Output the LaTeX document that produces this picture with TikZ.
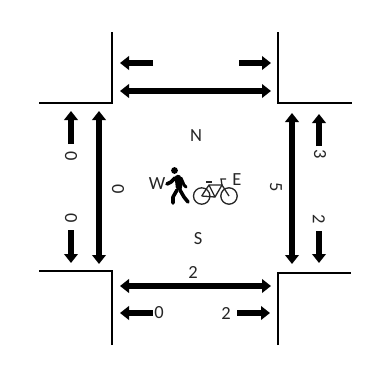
\documentclass[tikz,border=0pt]{standalone}
\usepackage{fontspec}
\setmainfont{Carlito}
\usetikzlibrary{arrows.meta}

\begin{document}
\begin{tikzpicture}[
  x=1pt, y=-1pt,
  font=\fontsize{18.5}{18.5}\selectfont,
  >={Triangle[width=13.5pt,length=9pt]},
  % Node styles
  hlabel/.style = {inner sep=0pt, black!85},
  vlabel/.style = {inner sep=0pt, rotate=-90, black!85},
  % Line styles
  kerb/.style   = {line width=1.6pt, line join=miter},
  flow/.style   = {<->, line width=6pt},
  turn/.style   = {->, line width=6pt},
  rider/.style  = {line width=1.3pt, black!85},
  walker/.style = {line width=3.6pt, line cap=round, line join=round}
]
\useasboundingbox (0,0) rectangle (373,376);

% =========================== KERBS ===========================
\coordinate (TLa) at (112,32);  \coordinate (TLb) at (112,103); \coordinate (TLc) at (39,103);
\coordinate (TRa) at (278,32);  \coordinate (TRb) at (278,103); \coordinate (TRc) at (352,103);
\coordinate (BLa) at (112,345); \coordinate (BLb) at (112,271); \coordinate (BLc) at (39,271);
\coordinate (BRa) at (278,345); \coordinate (BRb) at (278,273); \coordinate (BRc) at (351,273);

\draw[kerb] (TLa) -- (TLb) -- (TLc);
\draw[kerb] (TRa) -- (TRb) -- (TRc);
\draw[kerb] (BLa) -- (BLb) -- (BLc);
\draw[kerb] (BRa) -- (BRb) -- (BRc);

% =========================== NORTH LEG ===========================
\coordinate (Na) at (153,63);  \coordinate (Nb) at (120,63);
\coordinate (Nc) at (239,63);  \coordinate (Nd) at (271,63);
\coordinate (Ne) at (120,91);  \coordinate (Nf) at (271,91);
\draw[turn] (Na) -- (Nb);
\draw[turn] (Nc) -- (Nd);
\draw[flow] (Ne) -- (Nf);

% =========================== WEST LEG ===========================
\coordinate (Wa) at (71,144);  \coordinate (Wb) at (71,111);
\coordinate (Wc) at (71,230);  \coordinate (Wd) at (71,263);
\coordinate (We) at (99,111);  \coordinate (Wf) at (99,264);
\draw[turn] (Wa) -- (Wb);
\draw[turn] (Wc) -- (Wd);
\draw[flow] (We) -- (Wf);
\node[vlabel] (W0a) at (71,156)  {0};
\node[vlabel] (W0b) at (71,218)  {0};
\node[vlabel] (W0c) at (118,189) {0};

% =========================== EAST LEG ===========================
\coordinate (Ea) at (319,146); \coordinate (Eb) at (319,114);
\coordinate (Ec) at (319,231); \coordinate (Ed) at (319,263);
\coordinate (Ee) at (292,113); \coordinate (Ef) at (292,264);
\draw[turn] (Ea) -- (Eb);
\draw[turn] (Ec) -- (Ed);
\draw[flow] (Ee) -- (Ef);
\node[vlabel] (E3) at (320,154) {3};
\node[vlabel] (E2) at (319,219) {2};
\node[vlabel] (E5) at (276,187) {5};

% =========================== SOUTH LEG ===========================
\coordinate (Sa) at (120,286); \coordinate (Sb) at (271,286);
\coordinate (Sc) at (153,313); \coordinate (Sd) at (120,313);
\coordinate (Se) at (237,313); \coordinate (Sf) at (270,313);
\draw[flow] (Sa) -- (Sb);
\draw[turn] (Sc) -- (Sd);
\draw[turn] (Se) -- (Sf);
\node[hlabel] (S2a) at (193,272) {2};
\node[hlabel] (S0)  at (159,313) {0};
\node[hlabel] (S2b) at (226,313) {2};

% =========================== COMPASS ===========================
\node[hlabel] (N) at (196,136) {N};
\node[hlabel] (S) at (198,239) {S};
\node[hlabel] (W) at (157,184) {W};
\node[hlabel] (E) at (237,180) {E};

% =========================== PEDESTRIAN ===========================
\fill (174.5,170.5) circle (3.4);
\draw[walker, line width=6.5pt] (178,178) -- (179,187);
\draw[walker] (175,178) -- (171,182) -- (167,184);
\draw[walker, line width=3pt] (181,178) -- (184,185) -- (186,187);
\draw[walker] (177,190) -- (173,197) -- (173,203);
\draw[walker] (180,190) -- (184,197) -- (188,202);

% =========================== BICYCLE ===========================
\draw[rider] (201.7,196) circle (8.2);
\draw[rider] (229,196) circle (8.2);
\draw[rider] (201.7,196) -- (209,185) -- (222,185) -- (229,196);
\draw[rider] (201.7,196) -- (215,197) -- (222,185);
\draw[rider] (209,185) -- (215,197);
\draw[rider] (206,182) -- (212,182);
\draw[rider] (222,185) -- (221,179) -- (226,179);
\end{tikzpicture}
\end{document}
